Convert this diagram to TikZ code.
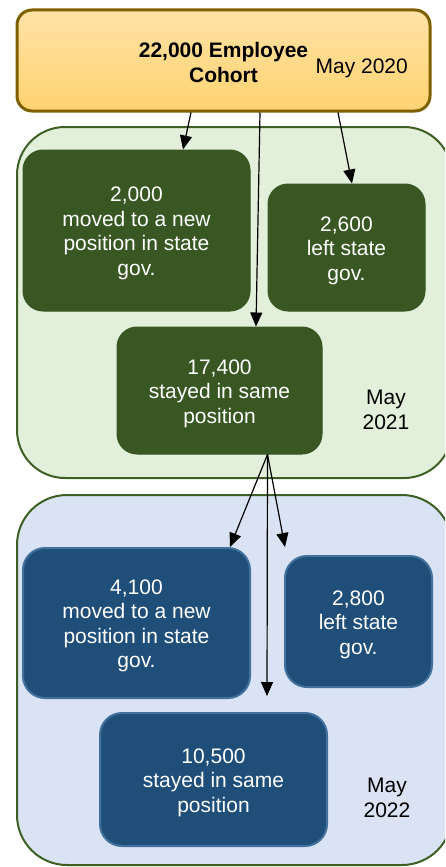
\documentclass[tikz,border=0pt]{standalone}
\usepackage{fontspec}
\setmainfont{Liberation Sans}
\usetikzlibrary{arrows.meta}
\definecolor{goldborder}{HTML}{7F6000}
\definecolor{goldtop}{HTML}{FFE2A6}
\definecolor{goldbot}{HTML}{FFD370}
\definecolor{greenbg}{HTML}{E2EFDA}
\definecolor{greenline}{HTML}{3E5F24}
\definecolor{greenbox}{HTML}{385723}
\definecolor{bluebg}{HTML}{DAE3F3}
\definecolor{bluebox}{HTML}{1F4E79}
\definecolor{blueline}{HTML}{41719C}
\tikzset{
  txt/.style={font=\fontsize{21}{24.5}\selectfont, align=center, inner sep=0pt},
  boxtxt/.style={txt, text=white, yshift=-3pt},
  container/.style={draw=greenline, line width=2pt, rounded corners=48pt, inner sep=0pt},
  gbox/.style={inner sep=0pt, fill=greenbox, draw=greenbox, line width=1pt, rounded corners=20pt},
  bbox/.style={inner sep=0pt, fill=bluebox, draw=blueline, line width=2pt, rounded corners=22pt},
  conn/.style={line width=1.2pt, -{Triangle[length=14pt,width=12pt]}},
}
\begin{document}
\begin{tikzpicture}[x=1pt,y=-1pt]
\useasboundingbox (0,0) rectangle (445,867);
\clip (0,0) rectangle (445,867);
% containers
\node[container, fill=greenbg, minimum width=435pt, minimum height=351pt] (c1) at (234.5,302.5) {};
\node[container, fill=bluebg, minimum width=435pt, minimum height=370pt, rounded corners=50pt] (c2) at (234.5,680) {};
% top box
\node[inner sep=0pt, draw=goldborder, line width=3pt, top color=goldtop, bottom color=goldbot, rounded corners=15pt,
      minimum width=413pt, minimum height=101pt] (top) at (223.5,60.5) {};
\node[txt, font=\fontsize{21}{24.5}\selectfont\bfseries] (title) at (223.5,62.5) {22,000 Employee\\Cohort};
\node[txt] (d0) at (361.7,68.5) {May 2020};
% 2021 boxes
\node[gbox, minimum width=227pt, minimum height=161pt,
      label={[boxtxt]center:{2,000\\moved to a new\\position in state\\gov.}}] (b1) at (136.5,230.5) {};
\node[gbox, minimum width=157pt, minimum height=127pt,
      label={[boxtxt]center:{2,600\\left state\\gov.}}] (b2) at (346.5,247.5) {};
\node[gbox, minimum width=205pt, minimum height=127pt,
      label={[boxtxt]center:{17,400\\stayed in same\\position}}] (b3) at (219.5,390.5) {};
\node[txt] (d1) at (386,410) {May\\2021};
% 2022 boxes
\node[bbox, minimum width=227pt, minimum height=150pt,
      label={[boxtxt]center:{4,100\\moved to a new\\position in state\\gov.}}] (b4) at (136.5,623) {};
\node[bbox, minimum width=147pt, minimum height=131pt,
      label={[boxtxt]center:{2,800\\left state\\gov.}}] (b5) at (358.5,621.5) {};
\node[bbox, minimum width=227pt, minimum height=133pt,
      label={[boxtxt]center:{10,500\\stayed in same\\position}}] (b6) at (213.5,779.5) {};
\node[txt] (d2) at (387,798) {May\\2022};
% free ends
\coordinate (e5) at (285,547);
\coordinate (e6) at (267,696);
% connectors
\draw[conn] ([xshift=-32.5pt]top.south) -- ([xshift=46.5pt]b1.north);
\draw[conn] ([xshift=36.5pt]top.south) -- ([xshift=36.5pt]b3.north);
\draw[conn] ([xshift=114.5pt]top.south) -- ([xshift=5.5pt]b2.north);
\draw[conn] ([xshift=48pt]b3.south) -- ([xshift=93.5pt]b4.north);
\draw[conn] ([xshift=48pt]b3.south) -- (e6);
\draw[conn] ([xshift=48pt]b3.south) -- (e5);
\end{tikzpicture}
\end{document}
